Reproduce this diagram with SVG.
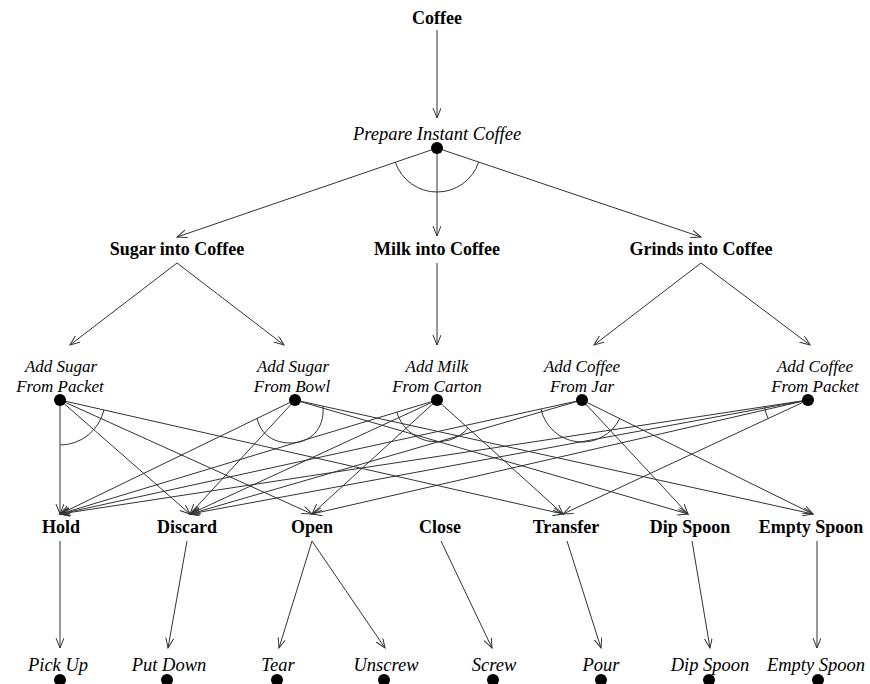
<svg xmlns="http://www.w3.org/2000/svg" width="870" height="684" viewBox="0 0 870 684">
<defs>
<marker id="arr" markerUnits="userSpaceOnUse" markerWidth="12" markerHeight="10" refX="10" refY="4" orient="auto">
<path d="M0,0 L10,4 L0,8" fill="none" stroke="#333" stroke-width="1"/>
</marker>
<style>
.b{font-family:"Liberation Serif","Times New Roman",serif;font-weight:bold;font-size:18px;fill:#000;text-anchor:middle}
.i{font-family:"Liberation Serif","Times New Roman",serif;font-style:italic;font-size:18.5px;fill:#000;text-anchor:middle}
.m{font-family:"Liberation Serif","Times New Roman",serif;font-style:italic;font-size:17px;fill:#000;text-anchor:middle}
.e{stroke:#333;stroke-width:1;fill:none;marker-end:url(#arr)}
.a{stroke:#333;stroke-width:1;fill:none}
.d{fill:#000}
</style>
</defs>
<rect width="870" height="684" fill="#fff"/>
<g id="connectors">
<line class="e" x1="437" y1="30" x2="437" y2="118"/>
<line class="e" x1="437" y1="148" x2="177" y2="237"/>
<line class="e" x1="437" y1="148" x2="437" y2="236"/>
<line class="e" x1="437" y1="148" x2="701" y2="237"/>
<path class="a" d="M395.4,162.3 A44,44 0 0 0 478.7,162.1"/>
<line class="e" x1="177" y1="263" x2="70" y2="345"/>
<line class="e" x1="177" y1="263" x2="284" y2="345"/>
<line class="e" x1="437" y1="263" x2="437" y2="345"/>
<line class="e" x1="701" y1="263" x2="594" y2="345"/>
<line class="e" x1="701" y1="263" x2="810" y2="345"/>
<line class="e" x1="60" y1="400" x2="60" y2="514"/>
<line class="e" x1="60" y1="400" x2="190" y2="514"/>
<line class="e" x1="60" y1="400" x2="312" y2="514"/>
<line class="e" x1="60" y1="400" x2="563" y2="514"/>
<path class="a" d="M60,445 A45,45 0 0 0 103.9,409.9"/>
<line class="e" x1="295" y1="400" x2="60" y2="514"/>
<line class="e" x1="295" y1="400" x2="190" y2="514"/>
<line class="e" x1="295" y1="400" x2="688" y2="514"/>
<line class="e" x1="295" y1="400" x2="813" y2="514"/>
<path class="a" d="M257,418 C261,436 275,443 291,443 C309,443 325,430 323,406"/>
<line class="e" x1="437" y1="400" x2="60" y2="514"/>
<line class="e" x1="437" y1="400" x2="190" y2="514"/>
<line class="e" x1="437" y1="400" x2="312" y2="514"/>
<line class="e" x1="437" y1="400" x2="563" y2="514"/>
<path class="a" d="M396.8,412.2 A42,42 0 0 0 468.1,428.2"/>
<line class="e" x1="582" y1="400" x2="60" y2="514"/>
<line class="e" x1="582" y1="400" x2="190" y2="514"/>
<line class="e" x1="582" y1="400" x2="688" y2="514"/>
<line class="e" x1="582" y1="400" x2="813" y2="514"/>
<path class="a" d="M541,409 A42,42 0 0 0 619.7,418.6"/>
<line class="e" x1="808" y1="400" x2="60" y2="514"/>
<line class="e" x1="808" y1="400" x2="190" y2="514"/>
<line class="e" x1="808" y1="400" x2="312" y2="514"/>
<line class="e" x1="808" y1="400" x2="563" y2="514"/>
<path class="a" d="M764.5,406.6 A44,44 0 0 0 768.1,418.6"/>
<line class="e" x1="60" y1="541" x2="60" y2="648"/>
<line class="e" x1="187" y1="541" x2="168" y2="648"/>
<line class="e" x1="312" y1="541" x2="279" y2="648"/>
<line class="e" x1="312" y1="541" x2="385" y2="648"/>
<line class="e" x1="441" y1="541" x2="492" y2="648"/>
<line class="e" x1="567" y1="541" x2="601" y2="648"/>
<line class="e" x1="692" y1="541" x2="710" y2="648"/>
<line class="e" x1="817" y1="541" x2="817" y2="648"/>
</g>
<g id="coffee"><text class="b" x="437" y="24">Coffee</text></g>
<g id="prepare"><text class="i" x="437" y="140">Prepare Instant Coffee</text><circle class="d" cx="437" cy="148" r="6"/></g>
<g id="sugar"><text class="b" x="177" y="255">Sugar into Coffee</text></g>
<g id="milk"><text class="b" x="437" y="255">Milk into Coffee</text></g>
<g id="grinds"><text class="b" x="701" y="255">Grinds into Coffee</text></g>
<g id="m-sugar-packet"><text class="m" x="61" y="372">Add Sugar</text><text class="m" x="60" y="392">From Packet</text><circle class="d" cx="60" cy="400" r="6"/></g>
<g id="m-sugar-bowl"><text class="m" x="293" y="372">Add Sugar</text><text class="m" x="292" y="392">From Bowl</text><circle class="d" cx="295" cy="400" r="6"/></g>
<g id="m-milk-carton"><text class="m" x="437" y="372">Add Milk</text><text class="m" x="437" y="392">From Carton</text><circle class="d" cx="437" cy="400" r="6"/></g>
<g id="m-coffee-jar"><text class="m" x="582" y="372">Add Coffee</text><text class="m" x="582" y="392">From Jar</text><circle class="d" cx="582" cy="400" r="6"/></g>
<g id="m-coffee-packet"><text class="m" x="815" y="372">Add Coffee</text><text class="m" x="815" y="392">From Packet</text><circle class="d" cx="808" cy="400" r="6"/></g>
<g id="hold"><text class="b" x="61" y="533">Hold</text></g>
<g id="discard"><text class="b" x="187" y="533">Discard</text></g>
<g id="open"><text class="b" x="312" y="533">Open</text></g>
<g id="close"><text class="b" x="440" y="533">Close</text></g>
<g id="transfer"><text class="b" x="566" y="533">Transfer</text></g>
<g id="dipspoon"><text class="b" x="690" y="533">Dip Spoon</text></g>
<g id="emptyspoon"><text class="b" x="811" y="533">Empty Spoon</text></g>
<g id="p-pickup"><text class="i" x="58" y="671">Pick Up</text><circle class="d" cx="60" cy="680" r="6"/></g>
<g id="p-putdown"><text class="i" x="169" y="671">Put Down</text><circle class="d" cx="167" cy="680" r="6"/></g>
<g id="p-tear"><text class="i" x="278" y="671">Tear</text><circle class="d" cx="277" cy="680" r="6"/></g>
<g id="p-unscrew"><text class="i" x="386" y="671">Unscrew</text><circle class="d" cx="384" cy="680" r="6"/></g>
<g id="p-screw"><text class="i" x="494" y="671">Screw</text><circle class="d" cx="493" cy="680" r="6"/></g>
<g id="p-pour"><text class="i" x="601" y="671">Pour</text><circle class="d" cx="601" cy="680" r="6"/></g>
<g id="p-dipspoon"><text class="i" x="710" y="671">Dip Spoon</text><circle class="d" cx="709" cy="680" r="6"/></g>
<g id="p-emptyspoon"><text class="i" x="816" y="671">Empty Spoon</text><circle class="d" cx="818" cy="680" r="6"/></g>
</svg>
